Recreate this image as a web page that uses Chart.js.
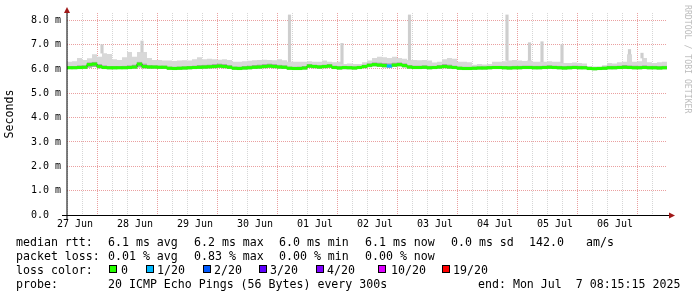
<!DOCTYPE html>
<html>
<head>
<meta charset="utf-8">
<title>Smokeping - 10 days</title>
<script src="https://cdn.jsdelivr.net/npm/chart.js@4.4.0/dist/chart.umd.min.js"></script>
<style>
  body { margin: 0; background: #fff; }
  #wrap { position: relative; width: 697px; height: 297px; overflow: hidden; background: #fff; }
  #grafico { position: absolute; left: 0; top: 0; }
  .txt { position: absolute; font-family: 'DejaVu Sans Mono', monospace; font-size: 11.6px; line-height: 14px; white-space: pre; color: #000; }
  .caja { position: absolute; top: 265px; width: 6px; height: 6px; border: 1px solid #000; }
  #marca { position: absolute; left: 693px; top: 5px; transform-origin: 0 0; transform: rotate(90deg);
           font-family: 'DejaVu Sans Mono', monospace; font-size: 8.2px; line-height: 10px; white-space: pre; color: #bcbcbc; }
</style>
</head>
<body>
<div id="wrap">
  <canvas id="grafico" width="697" height="297"></canvas>

  <div class="txt" style="left:16px;top:235px">median rtt:</div>
  <div class="txt" style="left:108px;top:235px">6.1 ms avg</div>
  <div class="txt" style="left:194px;top:235px">6.2 ms max</div>
  <div class="txt" style="left:279px;top:235px">6.0 ms min</div>
  <div class="txt" style="left:365px;top:235px">6.1 ms now</div>
  <div class="txt" style="left:451px;top:235px">0.0 ms sd</div>
  <div class="txt" style="left:529px;top:235px">142.0</div>
  <div class="txt" style="left:586px;top:235px">am/s</div>

  <div class="txt" style="left:16px;top:249px">packet loss:</div>
  <div class="txt" style="left:108px;top:249px">0.01 % avg</div>
  <div class="txt" style="left:194px;top:249px">0.83 % max</div>
  <div class="txt" style="left:279px;top:249px">0.00 % min</div>
  <div class="txt" style="left:365px;top:249px">0.00 % now</div>

  <div class="txt" style="left:16px;top:263px">loss color:</div>
  <div id="cajas"></div>

  <div class="txt" style="left:16px;top:277px">probe:</div>
  <div class="txt" style="left:108px;top:277px">20 ICMP Echo Pings (56 Bytes) every 300s</div>
  <div class="txt" style="left:478px;top:277px">end: Mon Jul  7 08:15:15 2025</div>

  <div id="marca">RRDTOOL / TOBI OETIKER</div>
</div>

<script>
// ====== Datos (bloques de 2 horas, 120 bloques = 10 días) ======
const dayLabels = ['27 Jun', '28 Jun', '29 Jun', '30 Jun', '01 Jul', '02 Jul', '03 Jul', '04 Jul', '05 Jul', '06 Jul'];
const yTicks = [0, 0.5, 1, 1.5, 2, 2.5, 3, 3.5, 4, 4.5, 5, 5.5, 6, 6.5, 7, 7.5, 8];
const yTickLabels = ['0.0  ', '1.0 m', '2.0 m', '3.0 m', '4.0 m', '5.0 m', '6.0 m', '7.0 m', '8.0 m'];

// mediana (ms)
const medianRtt = [
  6.05, 6.05, 6.06, 6.07, 6.18, 6.2, 6.1,
  6.06, 6.05, 6.05, 6.05, 6.05, 6.06, 6.08, 6.2, 6.1,
  6.08, 6.08, 6.07, 6.07, 6.03, 6.02, 6.03, 6.04, 6.05, 6.06, 6.07,
  6.08, 6.09, 6.1, 6.12, 6.1, 6.07, 6.03, 6.02, 6.04, 6.05,
  6.07, 6.08, 6.1, 6.12, 6.1, 6.08, 6.07, 6.03, 6.02, 6.02, 6.04,
  6.12, 6.1, 6.08, 6.1, 6.12, 6.06, 6.04, 6.06, 6.05, 6.04, 6.06, 6.1, 6.15,
  6.18, 6.16, 6.14, 6.12, 6.16, 6.18, 6.14, 6.08, 6.06, 6.06, 6.07, 6.05,
  6.06, 6.08, 6.1, 6.08, 6.06,
  6.03, 6.02, 6.02, 6.03, 6.04, 6.04, 6.05, 6.06, 6.06, 6.05, 6.04, 6.05,
  6.05, 6.06, 6.06, 6.05, 6.05, 6.06, 6.07, 6.06, 6.05, 6.04, 6.05, 6.06, 6.05, 6.05,
  6.02, 6.01, 6.02, 6.03,
  6.05, 6.05, 6.06, 6.07, 6.06, 6.05, 6.05, 6.06, 6.05, 6.05, 6.04, 6.05
];
// humo: minimo, banda oscura, maximo
const smokeLo = [
  6.0, 6.0, 6.0, 6.01, 6.05, 6.08, 6.02,
  6.0, 5.99, 5.99, 6.0, 6.0, 6.0, 6.01, 6.06, 6.02,
  6.01, 6.01, 6.0, 6.0, 5.97, 5.96, 5.97, 5.98, 5.99, 6.0, 6.0,
  6.01, 6.02, 6.03, 6.04, 6.03, 6.0, 5.97, 5.96, 5.98, 5.99,
  6.0, 6.01, 6.03, 6.04, 6.03, 6.01, 6.0, 5.97, 5.96, 5.96, 5.98,
  6.04, 6.03, 6.01, 6.03, 6.04, 6.0, 5.98, 5.99, 5.99, 5.98, 6.0, 6.03, 6.07,
  6.1, 6.08, 6.06, 6.05, 6.08, 6.1, 6.06, 6.01, 6.0, 6.0, 6.0, 5.99,
  6.0, 6.01, 6.03, 6.01, 6.0,
  5.97, 5.96, 5.96, 5.97, 5.98, 5.98, 5.99, 6.0, 6.0, 5.99, 5.98, 5.99,
  5.99, 6.0, 6.0, 5.99, 5.99, 6.0, 6.01, 6.0, 5.99, 5.98, 5.99, 6.0, 5.99, 5.99,
  5.96, 5.95, 5.96, 5.97,
  5.99, 5.99, 6.0, 6.01, 6.0, 5.99, 5.99, 6.0, 5.99, 5.99, 5.98, 5.99
];
const smokeMid = [
  6.12, 6.12, 6.15, 6.15, 6.28, 6.3, 6.2,
  6.15, 6.12, 6.12, 6.12, 6.13, 6.15, 6.18, 6.3, 6.22,
  6.16, 6.15, 6.14, 6.14, 6.1, 6.09, 6.1, 6.11, 6.12, 6.14, 6.16,
  6.17, 6.18, 6.2, 6.22, 6.2, 6.16, 6.1, 6.1, 6.12, 6.14,
  6.16, 6.18, 6.2, 6.22, 6.2, 6.17, 6.15, 6.1, 6.09, 6.1, 6.12,
  6.2, 6.18, 6.16, 6.18, 6.2, 6.14, 6.12, 6.13, 6.12, 6.11, 6.13, 6.18, 6.24,
  6.28, 6.27, 6.25, 6.24, 6.27, 6.28, 6.24, 6.16, 6.14, 6.14, 6.15, 6.13,
  6.13, 6.16, 6.2, 6.18, 6.14,
  6.1, 6.09, 6.09, 6.1, 6.11, 6.11, 6.12, 6.13, 6.13, 6.12, 6.12, 6.13,
  6.13, 6.14, 6.14, 6.13, 6.13, 6.14, 6.15, 6.14, 6.13, 6.12, 6.13, 6.14, 6.13, 6.12,
  6.08, 6.07, 6.08, 6.1,
  6.13, 6.13, 6.14, 6.16, 6.15, 6.14, 6.13, 6.15, 6.13, 6.13, 6.12, 6.13
];
const smokeHi = [
  6.3, 6.32, 6.45, 6.37, 6.44, 6.6, 6.5,
  6.65, 6.62, 6.4, 6.37, 6.48, 6.7, 6.5, 6.7, 6.7,
  6.45, 6.37, 6.37, 6.35, 6.35, 6.33, 6.35, 6.36, 6.35, 6.4, 6.48,
  6.4, 6.42, 6.4, 6.38, 6.4, 6.37, 6.3, 6.3, 6.32, 6.34,
  6.36, 6.37, 6.38, 6.37, 6.36, 6.4, 6.36, 6.3, 6.3, 6.3, 6.3,
  6.32, 6.3, 6.3, 6.35, 6.3, 6.28, 6.3, 6.2, 6.22, 6.2, 6.2, 6.28, 6.35,
  6.45, 6.5, 6.48, 6.45, 6.5, 6.45, 6.42, 6.37, 6.37, 6.36, 6.37, 6.35,
  6.27, 6.3, 6.4, 6.45, 6.42,
  6.3, 6.3, 6.28, 6.17, 6.2, 6.18, 6.2, 6.3, 6.3, 6.32, 6.35, 6.37,
  6.35, 6.33, 6.35, 6.3, 6.3, 6.3, 6.32, 6.3, 6.3, 6.25, 6.25, 6.27, 6.25, 6.22,
  6.12, 6.1, 6.1, 6.15,
  6.25, 6.22, 6.28, 6.3, 6.6, 6.3, 6.32, 6.45, 6.28, 6.25, 6.28, 6.3
];
// picos aislados (hora desde el inicio, valor máximo en ms)
const spikeHours = [14, 30, 89, 110, 137, 176, 185, 190, 198, 225, 230];
const spikeTops = [7.0, 7.15, 8.22, 7.05, 8.22, 8.22, 7.08, 7.12, 7.0, 6.8, 6.65];
// pérdidas: [bloque, pings perdidos de 20]
const lossEvents = [[64, 1]];
const lossSteps = [0, 1, 2, 3, 4, 10, 19];
const lossNames = ['0', '1/20', '2/20', '3/20', '4/20', '10/20', '19/20'];
const lossColors = ['#26ff00', '#00b8ff', '#0059ff', '#5e00ff', '#7e00ff', '#dd00ff', '#ff0000'];

// ====== Ajustes ======
const blockHours = 2;
const totalHours = 240;
const firstNoon = 3.2;     // primer mediodía (27 Jun 12:00) en horas desde el inicio
const medianHalf = 0.05;   // grosor de la línea de mediana (ms)
const gridMinor = '#d6d6d6';
const gridMajor = '#eaa0a0';

function puntosEscalon(arr) {
  const pts = arr.map((v, i) => ({ x: i * blockHours, y: v }));
  pts.push({ x: arr.length * blockHours, y: arr[arr.length - 1] });
  return pts;
}

function colorPerdida(i) {
  const ev = lossEvents.find(e => e[0] === i);
  const n = ev ? ev[1] : 0;
  let c = lossColors[0];
  lossSteps.forEach((s, k) => { if (n >= s) c = lossColors[k]; });
  return c;
}

const xTicks = [];
for (let h = firstNoon; h < totalHours; h += 6) xTicks.push(h);

// ====== Cajas de color de pérdida ======
const cajaX = [109, 146, 203, 259, 316, 378, 442];
const etiquetaX = [121, 157, 214, 270, 327, 391, 453];
const cont = document.getElementById('cajas');
lossNames.forEach((n, k) => {
  const c = document.createElement('div');
  c.className = 'caja';
  c.style.left = cajaX[k] + 'px';
  c.style.background = lossColors[k];
  cont.appendChild(c);
  const t = document.createElement('div');
  t.className = 'txt';
  t.style.left = etiquetaX[k] + 'px';
  t.style.top = '263px';
  t.textContent = n;
  cont.appendChild(t);
});

// ====== Ejes con flechas ======
const ejes = {
  id: 'ejes',
  afterDatasetsDraw(chart) {
    const { ctx, chartArea: a } = chart;
    const yb = Math.round(a.bottom) + 0.5;
    ctx.save();
    ctx.strokeStyle = '#000';
    ctx.lineWidth = 1;
    ctx.beginPath();
    ctx.moveTo(a.left - 5, yb);
    ctx.lineTo(a.right + 3, yb);
    ctx.stroke();
    ctx.beginPath();
    ctx.moveTo(a.left, a.bottom + 4);
    ctx.lineTo(a.left, a.top - 1);
    ctx.stroke();
    ctx.fillStyle = '#a01818';
    ctx.beginPath();
    ctx.moveTo(a.left - 3, a.top);
    ctx.lineTo(a.left + 3, a.top);
    ctx.lineTo(a.left, a.top - 6);
    ctx.closePath();
    ctx.fill();
    ctx.beginPath();
    ctx.moveTo(a.right + 2, yb - 3);
    ctx.lineTo(a.right + 2, yb + 3);
    ctx.lineTo(a.right + 8, yb);
    ctx.closePath();
    ctx.fill();
    ctx.restore();
  }
};

// ====== Gráfico ======
const ctx = document.getElementById('grafico').getContext('2d');
const grafico = new Chart(ctx, {
  type: 'line',
  data: {
    datasets: [
      {
        data: puntosEscalon(smokeLo),
        stepped: true, borderWidth: 0, pointRadius: 0, fill: false, order: 5
      },
      {
        data: puntosEscalon(smokeMid),
        stepped: true, borderWidth: 0, pointRadius: 0, fill: '-1',
        backgroundColor: '#a8a8a8', order: 5
      },
      {
        data: puntosEscalon(smokeHi),
        stepped: true, borderWidth: 0, pointRadius: 0, fill: '-1',
        backgroundColor: '#d8d8d8', order: 5
      },
      {
        type: 'bar',
        data: spikeHours.map((h, i) => ({ x: h, y: [smokeHi[Math.floor(h / blockHours)], spikeTops[i]] })),
        backgroundColor: '#cecece', barThickness: 2.5, grouped: false, order: 4
      },
      {
        data: puntosEscalon(medianRtt),
        stepped: true, borderColor: '#202020', borderWidth: 1, pointRadius: 0, fill: false, order: 2
      },
      {
        type: 'bar',
        data: medianRtt.map((v, i) => ({ x: i * blockHours + blockHours / 2, y: [v - medianHalf, v + medianHalf] })),
        backgroundColor: (c) => colorPerdida(c.dataIndex),
        barThickness: 5, grouped: false, order: 1
      }
    ]
  },
  options: {
    responsive: false,
    animation: false,
    events: [],
    layout: { padding: { left: 0, top: 13, right: 30, bottom: 60 } },
    plugins: { legend: { display: false }, tooltip: { enabled: false } },
    scales: {
      x: {
        type: 'linear', min: 0, max: totalHours, offset: false,
        afterBuildTicks: (s) => { s.ticks = xTicks.map(v => ({ value: v })); },
        afterFit: (s) => { s.height = 22; },
        ticks: {
          autoSkip: false, maxRotation: 0, padding: 3, color: '#000',
          font: { family: 'DejaVu Sans Mono', size: 10 },
          callback: (v, i) => (i % 4 === 0 ? dayLabels[i / 4] : '')
        },
        grid: {
          drawTicks: false,
          color: (c) => (c.index % 4 === 2 ? gridMajor : gridMinor)
        },
        border: { display: false, dash: [1, 1] }
      },
      y: {
        min: 0, max: 8.3,
        afterBuildTicks: (s) => { s.ticks = yTicks.map(v => ({ value: v })); },
        afterFit: (s) => { s.width = 67; },
        title: {
          display: true, text: 'Seconds', color: '#000',
          font: { family: 'DejaVu Sans Mono', size: 11.6 },
          padding: { top: 3, bottom: 0 }
        },
        ticks: {
          padding: 6, color: '#000',
          font: { family: 'DejaVu Sans Mono', size: 10 },
          callback: (v) => (Number.isInteger(v) ? yTickLabels[v] : '')
        },
        grid: {
          drawTicks: false,
          color: (c) => (Number.isInteger(c.tick.value) ? gridMajor : gridMinor)
        },
        border: { display: false, dash: [1, 1] }
      }
    }
  },
  plugins: [ejes]
});
</script>
</body>
</html>
